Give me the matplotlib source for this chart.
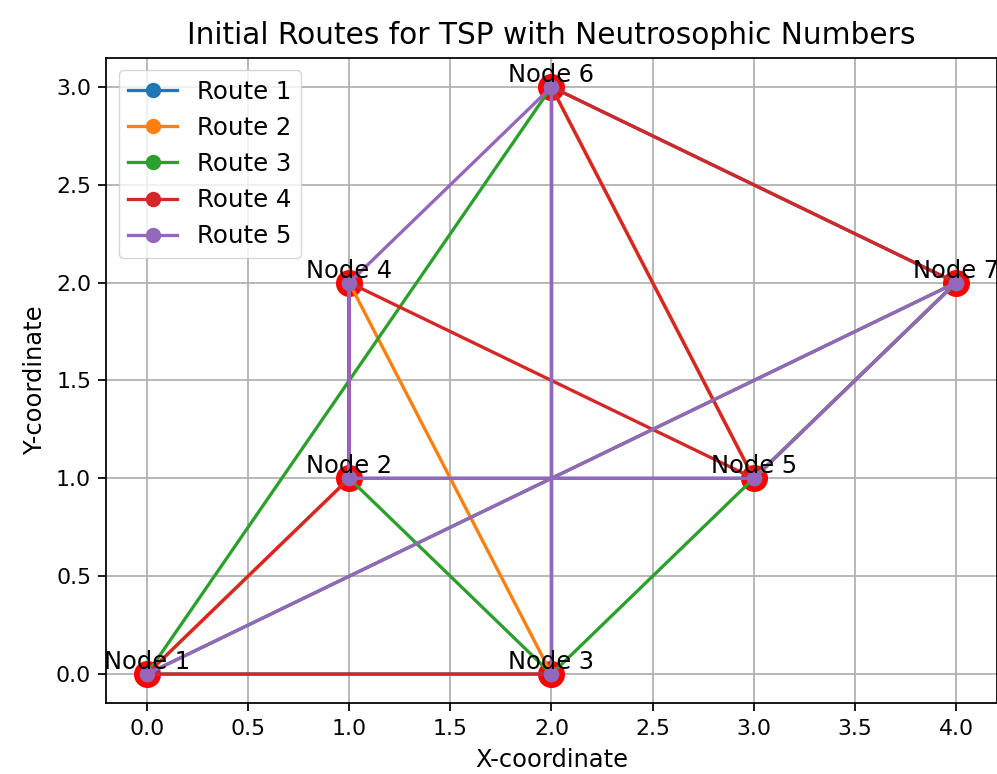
import matplotlib
matplotlib.use("Agg")
import matplotlib.pyplot as plt

# node coordinates
node_names = ["Node 1", "Node 2", "Node 3", "Node 4", "Node 5", "Node 6", "Node 7"]
node_x = [0, 1, 2, 1, 3, 2, 4]
node_y = [0, 1, 0, 2, 1, 3, 2]

# routes as node numbers (1-based)
route_labels = ["Route 1", "Route 2", "Route 3", "Route 4", "Route 5"]
route_1 = [1, 3, 6, 7, 5, 2, 4]
route_2 = [1, 2, 4, 3, 6, 5, 7]
route_3 = [4, 2, 3, 5, 7, 1, 6]
route_4 = [3, 1, 2, 4, 5, 6, 7]
route_5 = [3, 6, 4, 2, 5, 7, 1]
routes = [route_1, route_2, route_3, route_4, route_5]

S = 1.58  # scale of the original render vs 100 dpi

fig = plt.figure(figsize=(9.97, 7.74), dpi=100)
ax = fig.add_axes([0.1068, 0.0912, 0.8927, 0.8344])

ax.scatter(node_x, node_y, s=340, color="red", zorder=1)

for lab, r in zip(route_labels, routes):
    xs = [node_x[i - 1] for i in r]
    ys = [node_y[i - 1] for i in r]
    ax.plot(xs, ys, marker="o", lw=1.5 * S, ms=6 * S, mew=1.0 * S, label=lab, zorder=2)

for name, x, y in zip(node_names, node_x, node_y):
    ax.text(x, y, name, ha="center", va="bottom", fontsize=12 * 1.45, zorder=3)

ax.set_title("Initial Routes for TSP with Neutrosophic Numbers", fontsize=12 * 1.78, pad=6 * S)
ax.set_xlabel("X-coordinate", fontsize=10 * 1.74, labelpad=4 * S)
ax.set_ylabel("Y-coordinate", fontsize=10 * 1.74, labelpad=4 * S)
ax.tick_params(labelsize=10 * S, length=3.5 * S, width=0.8 * S, pad=3.5 * S)
for sp in ax.spines.values():
    sp.set_linewidth(0.8 * S)
ax.grid(True, color="#b0b0b0", lw=0.8 * S)
ax.set_axisbelow(True)
ax.legend(loc="upper left", fontsize=10 * 1.76, handlelength=2.0, borderpad=0.4,
          labelspacing=0.5, framealpha=0.8)

fig.savefig("out.png", dpi=100)
